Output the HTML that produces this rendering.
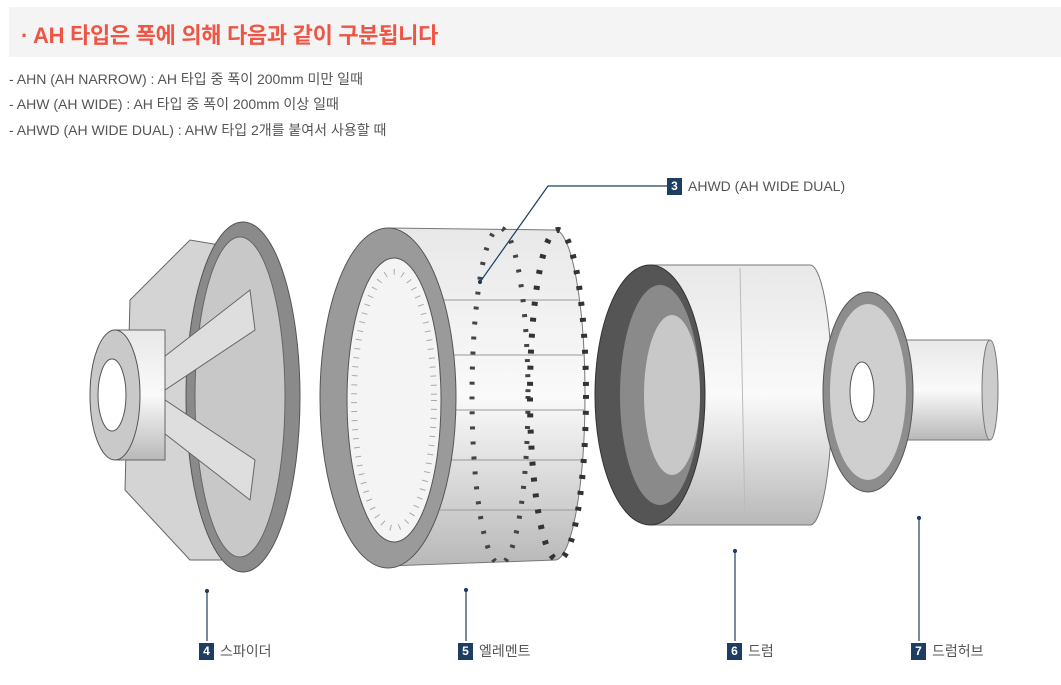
<!DOCTYPE html>
<html><head><meta charset="utf-8"><style>
body{margin:0;width:1061px;height:685px;background:#fff;overflow:hidden;font-family:"Liberation Sans","Noto Sans CJK KR",sans-serif;position:relative}
.hd{position:absolute;left:9px;top:7px;width:1052px;height:50px;background:#f4f4f4}
.hd span{position:absolute;left:12px;top:11px;font-size:22px;font-weight:bold;color:#ef5544;letter-spacing:-0.3px}
.ln{position:absolute;left:9px;font-size:14px;color:#555}
.lb{position:absolute;font-size:14px;color:#555;line-height:17px}
.lb b{display:inline-block;width:15px;height:17px;background:#1d3d61;color:#fff;text-align:center;font-size:12px;margin-right:6px;vertical-align:top}
</style></head><body>
<div class="hd"><span>· AH 타입은 폭에 의해 다음과 같이 구분됩니다</span></div>
<div class="ln" style="top:69px">- AHN (AH NARROW) : AH 타입 중 폭이 200mm 미만 일때</div>
<div class="ln" style="top:94px">- AHW (AH WIDE) : AH 타입 중 폭이 200mm 이상 일때</div>
<div class="ln" style="top:120px">- AHWD (AH WIDE DUAL) : AHW 타입 2개를 붙여서 사용할 때</div>
<svg width="1061" height="685" style="position:absolute;left:0;top:0">
<defs>
<linearGradient id="cy" x1="0" y1="0" x2="0" y2="1"><stop offset="0" stop-color="#e8e8e8"/><stop offset="0.5" stop-color="#fafafa"/><stop offset="1" stop-color="#b8b8b8"/></linearGradient>
</defs>
<!-- spider -->
<polygon points="130,300 190,240 250,250 255,560 190,560 125,490" fill="#d4d4d4" stroke="#666"/>
<ellipse cx="243" cy="397" rx="57" ry="175" fill="#8a8a8a" stroke="#555"/>
<ellipse cx="240" cy="397" rx="45" ry="160" fill="#c8c8c8" stroke="#666"/>
<polygon points="160,360 250,290 255,330 165,390" fill="#dedede" stroke="#666"/>
<polygon points="160,430 250,500 255,460 165,400" fill="#dedede" stroke="#666"/>
<rect x="115" y="330" width="50" height="130" fill="url(#cy)" stroke="#666"/>
<ellipse cx="115" cy="395" rx="25" ry="65" fill="#c9c9c9" stroke="#555"/>
<ellipse cx="112" cy="395" rx="14" ry="36" fill="#fff" stroke="#555"/>
<!-- element -->
<path d="M388,228 L555,230 A30,165 0 0 1 555,560 L388,566 Z" fill="url(#cy)" stroke="#777"/>
<g stroke="#999"><line x1="440" y1="300" x2="580" y2="300"/><line x1="445" y1="355" x2="584" y2="355"/><line x1="445" y1="410" x2="584" y2="410"/><line x1="445" y1="460" x2="584" y2="460"/><line x1="440" y1="510" x2="580" y2="510"/></g>
<ellipse cx="500" cy="396" rx="28" ry="168" fill="none" stroke="#444" stroke-width="5" stroke-dasharray="3 12"/>
<ellipse cx="558" cy="395" rx="28" ry="165" fill="none" stroke="#333" stroke-width="6" stroke-dasharray="4 12"/>
<ellipse cx="388" cy="398" rx="68" ry="170" fill="#9a9a9a" stroke="#555"/>
<ellipse cx="394" cy="400" rx="47" ry="142" fill="#f4f4f4" stroke="#555"/>
<ellipse cx="394" cy="400" rx="40" ry="128" fill="none" stroke="#aaa" stroke-width="6" stroke-dasharray="1 8"/>
<!-- drum -->
<path d="M650,265 L810,265 A22,130 0 0 1 810,525 L650,525 Z" fill="url(#cy)" stroke="#777"/>
<line x1="740" y1="268" x2="745" y2="522" stroke="#bbb"/>
<ellipse cx="650" cy="395" rx="55" ry="130" fill="#555" stroke="#333"/>
<ellipse cx="660" cy="395" rx="40" ry="110" fill="#8a8a8a"/>
<ellipse cx="672" cy="395" rx="28" ry="80" fill="#c8c8c8"/>
<!-- drum hub -->
<rect x="870" y="340" width="120" height="100" fill="url(#cy)" stroke="#777"/>
<ellipse cx="990" cy="390" rx="8" ry="50" fill="#ccc" stroke="#777"/>
<ellipse cx="868" cy="392" rx="45" ry="100" fill="#8d8d8d" stroke="#555"/>
<ellipse cx="868" cy="392" rx="38" ry="88" fill="#cfcfcf"/>
<ellipse cx="862" cy="392" rx="12" ry="30" fill="#fff" stroke="#555"/>
<!-- leaders -->
<g stroke="#1d3d61" stroke-width="1.2" fill="#1d3d61">
<polyline points="668,186 548,186 480,282" fill="none"/><circle cx="480" cy="282" r="1.5"/>
<line x1="207" y1="591" x2="207" y2="641"/><circle cx="207" cy="591" r="1.5"/>
<line x1="466" y1="590" x2="466" y2="641"/><circle cx="466" cy="590" r="1.5"/>
<line x1="735" y1="551" x2="735" y2="641"/><circle cx="735" cy="551" r="1.5"/>
<line x1="919" y1="518" x2="919" y2="641"/><circle cx="919" cy="518" r="1.5"/>
</g>
</svg>
<div class="lb" style="left:667px;top:178px"><b>3</b>AHWD (AH WIDE DUAL)</div>
<div class="lb" style="left:199px;top:643px"><b>4</b>스파이더</div>
<div class="lb" style="left:458px;top:643px"><b>5</b>엘레멘트</div>
<div class="lb" style="left:727px;top:643px"><b>6</b>드럼</div>
<div class="lb" style="left:911px;top:643px"><b>7</b>드럼허브</div>
</body></html>
